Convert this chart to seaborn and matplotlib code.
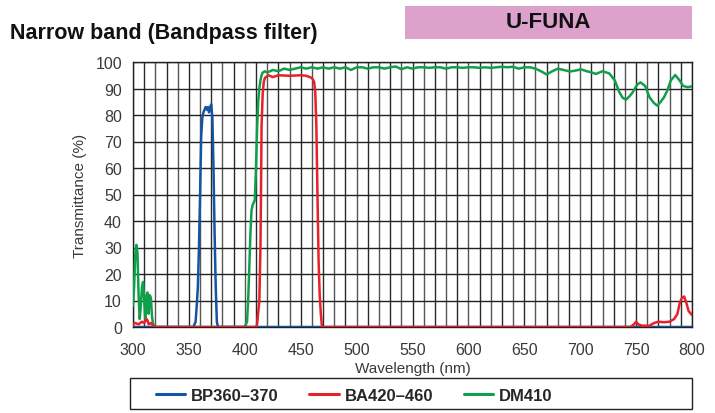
import matplotlib
matplotlib.use("Agg")
import matplotlib.pyplot as plt
import seaborn as sns
import numpy as np
import pandas as pd
from matplotlib.patches import Rectangle
from matplotlib.lines import Line2D

# ---------------- data ----------------
series_names = ["BP360\u2013370", "BA420\u2013460", "DM410"]
series_colors = ["#1553a5", "#e8202a", "#10a04c"]

bp_wl = [300, 350, 354, 356, 357, 358, 359, 360, 361, 362, 363, 364, 365, 366, 367,
         368, 369, 370, 371, 372, 373, 374, 375, 376, 800]
bp_t = [0, 0, 0, 2, 8, 15, 30, 50, 72, 79, 81, 82, 83, 82, 83,
        81, 83, 84, 79, 60, 35, 15, 2, 0, 0]

ba_wl = [300, 302, 305, 308, 310, 312, 313, 314, 316, 318, 320, 410, 411, 413, 414,
         414.5, 415, 416, 417, 418, 421, 425, 430, 440, 450, 455, 460, 462, 463,
         464, 465, 466, 467, 468, 469, 745, 748, 750, 752, 755, 762, 766, 770, 775,
         780, 784, 787, 789, 791, 793, 795, 797, 800]
ba_t = [1, 1.5, 1, 2, 1.5, 3, 2.5, 1, 1.5, 0.5, 0, 0, 1, 10, 30,
        51, 76, 88, 92.5, 94, 95, 94.3, 95, 94.8, 95, 94.8, 94, 92.5, 89,
        76, 50, 25, 12, 5, 0, 0, 1, 2, 1, 0.5, 0.5, 1.5, 2, 1.8,
        2, 3, 5, 9, 11, 11.5, 9, 6, 4.5]

dm_wl = [300, 301, 302, 303, 304, 305, 306, 307, 308, 309, 310, 311, 312, 313, 314,
         315, 316, 317, 318, 320, 400, 402, 403, 404, 405, 406, 407, 408, 409, 410,
         411, 412, 413, 414, 415, 416, 418, 420, 425, 430, 435, 440, 445, 450, 455,
         460, 465, 470, 475, 480, 485, 490, 495, 500, 505, 510, 515, 520, 525, 530,
         535, 540, 545, 550, 555, 560, 565, 570, 575, 580, 585, 590, 595, 600, 605,
         610, 615, 620, 625, 630, 635, 640, 645, 650, 655, 660, 665, 670, 675, 680,
         685, 691, 696, 701, 706, 710, 714, 720, 726, 731, 735, 738, 741, 744, 747,
         751, 754, 758, 762, 766, 769, 772, 775, 778, 781, 785, 789, 792, 796, 800]
dm_t = [8, 15, 27, 31, 28, 12, 3, 8, 15, 17, 10, 3, 12, 13, 5,
        12, 11, 4, 1, 0, 0, 2, 10, 22, 35, 44, 46, 47, 48, 60,
        75, 85, 90, 93, 95, 96, 96.5, 96, 97, 96.5, 97.5, 97, 97.5, 98, 97.5,
        98, 97.5, 98, 97.5, 98, 97.5, 98, 97, 98, 98, 97.5, 98, 98, 97.5, 98,
        98.3, 97.3, 98, 97.5, 98, 98, 97.8, 98, 98, 97.5, 98, 98, 97.8, 98, 98,
        97.8, 98, 97.8, 98, 98.2, 98, 98.2, 97.5, 98, 98, 97.5, 96.5, 95.3, 96.5, 97.5,
        97, 96.4, 96.8, 97.2, 96.5, 96.1, 95.5, 96.5, 95.7, 93, 88.6, 86.5, 85.8, 87, 88.6,
        91.5, 92.3, 91, 86.7, 84.5, 83.5, 85, 86.7, 89.3, 93, 95.1, 93, 91, 90.5, 90.8]

x_ticks = list(range(300, 801, 50))
y_ticks = list(range(0, 101, 10))

title_text = "Narrow band (Bandpass filter)"
badge_text = "U-FUNA"
x_label = "Wavelength (nm)"
y_label = "Transmittance (%)"

# ---------------- style ----------------
sns.set_style("white")
plt.rcParams['font.family'] = ['Liberation Sans', 'DejaVu Sans']

fig = plt.figure(figsize=(7.15, 4.14), dpi=100)
W, H = 715, 414
ax = fig.add_axes([133 / W, 1 - 328 / H, (692 - 133) / W, (328 - 63) / H])

# grid
for v in range(300, 801, 10):
    ax.axvline(v, color="#2a2a2a" if (v // 10) % 2 == 1 else "#555555", lw=1.0, zorder=0.5)
for v in y_ticks:
    ax.axhline(v, color="#222222", lw=1.0, zorder=0.5)

frames = [
    pd.DataFrame({"wl": dm_wl, "t": dm_t, "s": series_names[2]}),
    pd.DataFrame({"wl": bp_wl, "t": bp_t, "s": series_names[0]}),
    pd.DataFrame({"wl": ba_wl, "t": ba_t, "s": series_names[1]}),
]
col_map = dict(zip(series_names, series_colors))
for df in frames:
    name = df["s"].iloc[0]
    sns.lineplot(data=df, x="wl", y="t", color=col_map[name], lw=1.8, ax=ax,
                 legend=False, zorder=3, estimator=None, sort=False)

ax.set_xlim(300, 800)
ax.set_ylim(0, 100)
ax.set_xticks(x_ticks)
ax.set_xticks(range(300, 801, 10), minor=True)
ax.set_yticks(y_ticks)
ax.tick_params(axis="y", which="major", direction="out", length=5, width=0.8,
               color="#333333", labelsize=11.5, labelcolor="#3a3a3a", pad=3)
ax.tick_params(axis="x", which="both", direction="out", length=4, width=0.8,
               color="#333333", labelsize=11.5, labelcolor="#3a3a3a", pad=7)
for s in ax.spines.values():
    s.set_color("#222222")
    s.set_linewidth(1.0)
ax.set_xlabel(x_label, fontsize=11, color="#3a3a3a", labelpad=3)
ax.set_ylabel(y_label, fontsize=11, color="#3a3a3a", labelpad=6)

# title & badge
fig.text(10 / W, 1 - 33 / H, title_text, fontsize=15.5, fontweight="bold",
         va="center", ha="left", color="#111111")
fig.patches.append(Rectangle((405 / W, 1 - 40 / H), (692 - 405) / W, 33 / H,
                             transform=fig.transFigure, facecolor="#dda2cc",
                             edgecolor="none", zorder=0))
fig.text(548 / W, 1 - 23 / H, badge_text, fontsize=16, fontweight="bold",
         va="center", ha="center", color="#111111")

# legend frame + entries
fig.patches.append(Rectangle((130 / W, 1 - 410 / H), (692 - 130) / W, 31 / H,
                             transform=fig.transFigure, facecolor="white",
                             edgecolor="#222222", lw=1.0, zorder=0))
handles = [Line2D([], [], color=c, lw=2.2) for c in series_colors]
leg = fig.legend(handles, series_names, loc="center left",
                 bbox_to_anchor=(156 / W, 1 - 396.5 / H),
                 ncol=3, frameon=False, handlelength=1.75, handletextpad=0.35,
                 columnspacing=1.85, borderaxespad=0, borderpad=0,
                 prop={"weight": "bold", "size": 12})

fig.savefig("out.png", dpi=100)
